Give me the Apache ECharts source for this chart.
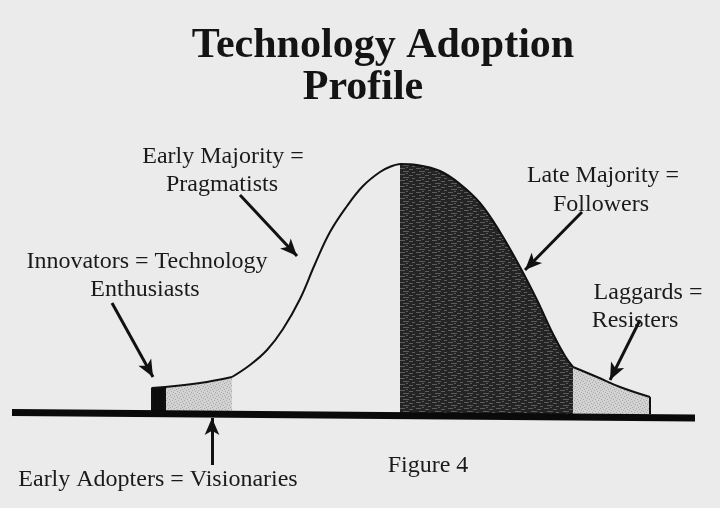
<!DOCTYPE html>
<html>
<head>
<meta charset="utf-8">
<title>Technology Adoption Profile</title>
<script src="https://cdn.jsdelivr.net/npm/echarts@6/dist/echarts.min.js"></script>
<style>
  html, body { margin: 0; padding: 0; background: #ebebeb; }
  #chart { width: 720px; height: 508px; }
</style>
</head>
<body>
<div id="chart"></div>
<script>
// bell curve pieces, [x, height above the baseline]
const innovators = [[152, 0], [152, 26], [165, 27], [165, 0]];
const earlyAdopters = [[165, 27], [200, 31], [232, 37]];
const earlyMajority = [[232, 37], [250, 49], [267, 64], [283, 85], [300, 115], [315, 150], [330, 182], [347, 208], [363, 228], [380, 242], [392, 248], [400, 250]];
const lateMajority = [[400, 250], [417, 249], [440, 243], [460, 230], [480, 211], [500, 182], [520, 147], [537, 114], [553, 80], [565, 58], [573, 47]];
const laggards = [[573, 47], [597, 37], [620, 27], [650, 17]];
const laggardsEdge = [[650, 17], [650, 0]];
const groundLine = [[12, 1.5], [695, -4]];

const titleLines = ['Technology Adoption', 'Profile'];
const labelTexts = [
  'Early Majority =', 'Pragmatists',
  'Innovators = Technology', 'Enthusiasts',
  'Late Majority =', 'Followers',
  'Laggards =', 'Resisters',
  'Early Adopters = Visionaries',
  'Figure 4'
];
// arrows: [from, to] in the same axis units
const arrows = [
  [[112, 111], [153, 37]],
  [[240, 219], [297, 158]],
  [[212, -51], [212, -4]],
  [[582, 202], [525, 144]],
  [[640, 94], [610, 34]]
];

// where the label lines go (pixels)
const labelPos = [
  [223, 157], [222, 185],
  [147, 262], [145, 290],
  [603, 176], [601, 205],
  [648, 293], [635, 321],
  [158, 480],
  [428, 466]
];
const titlePos = [[383, 46], [363, 88]];

function makeTile(w, h, base, ink, dots) {
  const c = document.createElement('canvas');
  c.width = w; c.height = h;
  const ctx = c.getContext('2d');
  ctx.fillStyle = base;
  ctx.fillRect(0, 0, w, h);
  ctx.fillStyle = ink;
  dots.forEach(d => ctx.fillRect(d[0], d[1], d[2], d[3]));
  return c;
}

const lightTile = makeTile(6, 6, '#d2d2d2', '#a9a9a9',
  [[0, 0, 1, 1], [3, 1, 1, 1], [1, 3, 1, 1], [4, 4, 1, 1], [5, 2, 1, 1], [2, 5, 1, 1]]);
const darkTile = makeTile(16, 6, '#242424', '#5c5c5c',
  [[0, 0, 5, 1], [9, 1, 4, 1], [3, 3, 6, 1], [12, 4, 3, 1], [6, 5, 2, 1]]);

const chart = echarts.init(document.getElementById('chart'));

function curve(data, fill, smooth) {
  return {
    type: 'line',
    data: data,
    smooth: smooth,
    symbol: 'none',
    silent: true,
    lineStyle: { color: '#111', width: 2 },
    areaStyle: fill ? { color: fill, opacity: 1 } : { opacity: 0 },
    z: 2
  };
}

const graphics = [];
titleLines.forEach((t, i) => {
  graphics.push({
    type: 'text', x: titlePos[i][0], y: titlePos[i][1], z: 10,
    style: {
      text: t, font: 'bold 42px "Liberation Serif"', fill: '#141414',
      textAlign: 'center', textVerticalAlign: 'middle', align: 'center', verticalAlign: 'middle'
    }
  });
});
labelTexts.forEach((t, i) => {
  graphics.push({
    type: 'text', x: labelPos[i][0], y: labelPos[i][1], z: 10,
    style: {
      text: t, font: '24px "Liberation Serif"', fill: '#1a1a1a',
      textAlign: 'center', textVerticalAlign: 'middle', align: 'center', verticalAlign: 'middle'
    }
  });
});

chart.setOption({
  backgroundColor: '#ebebeb',
  animation: false,
  grid: { left: 0, right: 0, top: 0, bottom: 0 },
  xAxis: { type: 'value', min: 0, max: 720, show: false },
  yAxis: { type: 'value', min: -94, max: 414, show: false },
  graphic: graphics,
  series: [
    curve(innovators, '#0d0d0d', false),
    curve(earlyAdopters, { image: lightTile, repeat: 'repeat' }, 0.4),
    curve(earlyMajority, null, 0.4),
    curve(lateMajority, { image: darkTile, repeat: 'repeat' }, 0.4),
    curve(laggards, { image: lightTile, repeat: 'repeat' }, 0.4),
    curve(laggardsEdge, null, false),
    {
      type: 'line',
      data: groundLine,
      symbol: 'none',
      silent: true,
      lineStyle: { color: '#0a0a0a', width: 7 },
      z: 5,
      markLine: {
        silent: true,
        symbol: ['none', 'arrow'],
        symbolSize: [11, 17],
        label: { show: false },
        lineStyle: { color: '#111', width: 3, type: 'solid' },
        data: arrows.map(a => [{ coord: a[0] }, { coord: a[1] }])
      }
    }
  ]
});
</script>
</body>
</html>
